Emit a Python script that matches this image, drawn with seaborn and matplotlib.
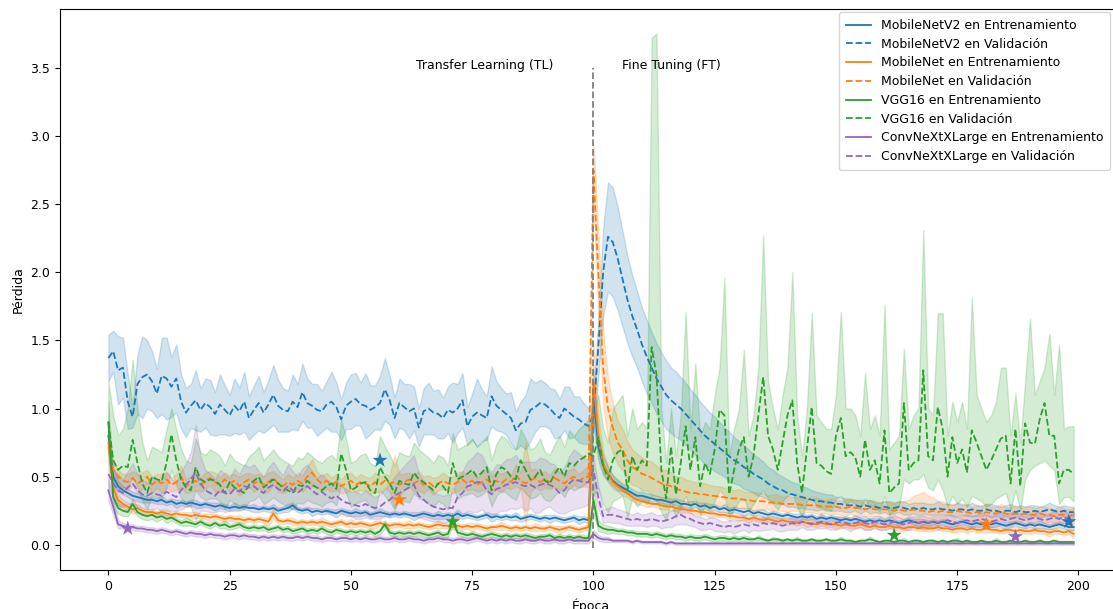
import numpy as np
import pandas as pd
import matplotlib
matplotlib.use('Agg')
import matplotlib.pyplot as plt
import seaborn as sns
from matplotlib.lines import Line2D

plt.rcParams['font.family'] = ['DejaVu Sans']
plt.rcParams['font.size'] = 9

# ---- datos (200 epocas: 0-99 TL, 100-199 FT) ----
epocas = np.arange(200)

mnv2_train = [
    0.80, 0.50, 0.43, 0.40, 0.38, 0.36, 0.35, 0.34, 0.33, 0.33,
    0.32, 0.33, 0.31, 0.32, 0.30, 0.31, 0.30, 0.31, 0.30, 0.29,
    0.30, 0.29, 0.28, 0.29, 0.28, 0.27, 0.28, 0.27, 0.28, 0.27,
    0.27, 0.26, 0.27, 0.26, 0.27, 0.25, 0.26, 0.27, 0.29, 0.26,
    0.25, 0.26, 0.24, 0.25, 0.24, 0.25, 0.24, 0.23, 0.25, 0.24,
    0.23, 0.24, 0.23, 0.24, 0.22, 0.23, 0.24, 0.23, 0.22, 0.23,
    0.22, 0.23, 0.22, 0.21, 0.22, 0.23, 0.22, 0.21, 0.22, 0.21,
    0.22, 0.21, 0.23, 0.21, 0.22, 0.21, 0.20, 0.21, 0.22, 0.20,
    0.21, 0.20, 0.21, 0.20, 0.21, 0.19, 0.20, 0.21, 0.20, 0.19,
    0.20, 0.19, 0.20, 0.19, 0.18, 0.19, 0.20, 0.18, 0.19, 0.18,
    1.10, 0.72, 0.58, 0.52, 0.47, 0.44, 0.42, 0.40, 0.38, 0.36,
    0.36, 0.35, 0.34, 0.33, 0.33, 0.32, 0.31, 0.32, 0.30, 0.30,
    0.29, 0.30, 0.28, 0.29, 0.27, 0.28, 0.26, 0.27, 0.25, 0.26,
    0.25, 0.24, 0.25, 0.23, 0.24, 0.23, 0.22, 0.23, 0.22, 0.21,
    0.22, 0.21, 0.20, 0.21, 0.20, 0.21, 0.19, 0.20, 0.19, 0.20,
    0.19, 0.18, 0.19, 0.18, 0.19, 0.18, 0.17, 0.18, 0.17, 0.18,
    0.17, 0.18, 0.17, 0.16, 0.17, 0.18, 0.17, 0.16, 0.17, 0.16,
    0.17, 0.16, 0.17, 0.16, 0.15, 0.16, 0.17, 0.16, 0.15, 0.16,
    0.15, 0.16, 0.15, 0.16, 0.15, 0.14, 0.15, 0.16, 0.15, 0.14,
    0.15, 0.14, 0.15, 0.14, 0.13, 0.14, 0.15, 0.14, 0.13, 0.13,
]
mnv2_train_sd = [
    .10, .06, .04, .03, .03, .03, .03, .03, .02, .02,
    .02, .03, .02, .02, .03, .02, .02, .02, .03, .02,
    .02, .02, .03, .02, .02, .02, .03, .02, .02, .02,
    .03, .02, .02, .02, .03, .02, .02, .03, .02, .02,
    .02, .02, .03, .02, .02, .02, .02, .03, .02, .02,
    .02, .03, .02, .02, .02, .02, .03, .02, .02, .02,
    .02, .02, .02, .03, .02, .02, .02, .02, .03, .02,
    .02, .02, .03, .02, .02, .02, .02, .02, .02, .03,
    .02, .02, .02, .02, .03, .02, .02, .02, .02, .02,
    .02, .03, .02, .02, .02, .02, .02, .03, .02, .02,
    .20, .10, .07, .05, .04, .04, .03, .03, .03, .03,
    .03, .03, .03, .03, .02, .03, .03, .02, .03, .02,
    .03, .02, .03, .02, .03, .02, .02, .03, .02, .02,
    .02, .03, .02, .02, .02, .03, .02, .02, .02, .02,
    .02, .02, .03, .02, .02, .02, .02, .03, .02, .02,
    .02, .02, .02, .02, .03, .02, .02, .02, .02, .02,
    .02, .03, .02, .02, .02, .02, .02, .03, .02, .02,
    .02, .02, .02, .03, .02, .02, .02, .02, .02, .03,
    .02, .02, .02, .02, .02, .03, .02, .02, .02, .02,
    .02, .02, .03, .02, .02, .02, .02, .02, .03, .02,
]
mnv2_val = [
    1.37, 1.42, 1.28, 1.30, 1.05, 0.94, 1.18, 1.23, 1.25, 1.20,
    1.11, 1.24, 1.22, 1.16, 1.22, 1.05, 0.97, 1.02, 1.06, 0.99,
    1.04, 1.01, 0.96, 1.03, 0.99, 0.95, 1.02, 0.98, 1.05, 0.93,
    0.99, 1.04, 0.97, 1.03, 1.10, 1.02, 0.99, 0.98, 1.05, 1.01,
    1.12, 1.04, 1.02, 0.99, 0.98, 1.03, 1.05, 1.01, 0.92, 1.02,
    1.05, 1.07, 1.03, 1.02, 0.99, 1.01, 1.04, 1.14, 1.06, 0.93,
    1.04, 1.01, 0.98, 1.00, 0.86, 0.98, 1.00, 0.97, 0.96, 0.93,
    0.99, 0.97, 1.00, 1.06, 0.87, 0.94, 0.97, 0.95, 0.93, 1.09,
    1.02, 0.99, 0.96, 0.93, 0.84, 0.89, 0.90, 0.99, 1.01, 1.04,
    1.03, 1.00, 0.96, 0.93, 1.00, 0.97, 0.94, 0.92, 0.89, 0.87,
    0.95, 1.45, 2.00, 2.26, 2.22, 2.10, 1.95, 1.80, 1.68, 1.58,
    1.47, 1.38, 1.30, 1.22, 1.16, 1.10, 1.06, 1.03, 1.00, 0.96,
    0.92, 0.88, 0.84, 0.80, 0.77, 0.74, 0.71, 0.68, 0.65, 0.62,
    0.60, 0.57, 0.55, 0.52, 0.50, 0.48, 0.45, 0.43, 0.41, 0.40,
    0.38, 0.37, 0.36, 0.35, 0.34, 0.33, 0.32, 0.32, 0.31, 0.31,
    0.30, 0.30, 0.29, 0.29, 0.29, 0.28, 0.29, 0.28, 0.28, 0.27,
    0.28, 0.27, 0.27, 0.28, 0.27, 0.26, 0.27, 0.26, 0.27, 0.26,
    0.26, 0.27, 0.26, 0.26, 0.25, 0.26, 0.26, 0.25, 0.26, 0.25,
    0.25, 0.26, 0.25, 0.25, 0.24, 0.25, 0.25, 0.24, 0.25, 0.24,
    0.24, 0.25, 0.24, 0.25, 0.26, 0.25, 0.24, 0.25, 0.24, 0.24,
]
mnv2_val_sd = [
    .17, .15, .25, .22, .20, .08, .22, .30, .25, .22,
    .18, .28, .30, .22, .25, .20, .18, .16, .22, .16,
    .18, .20, .16, .22, .18, .15, .20, .17, .22, .16,
    .18, .20, .15, .18, .22, .19, .16, .15, .20, .17,
    .21, .18, .16, .19, .15, .17, .22, .18, .15, .17,
    .20, .19, .16, .24, .18, .16, .20, .23, .18, .15,
    .18, .17, .20, .16, .14, .17, .19, .16, .18, .15,
    .17, .22, .18, .20, .14, .17, .25, .19, .16, .22,
    .18, .16, .15, .19, .14, .16, .20, .23, .18, .17,
    .16, .15, .18, .14, .16, .19, .15, .17, .15, .13,
    .10, .22, .32, .40, .40, .38, .35, .32, .30, .28,
    .27, .27, .26, .26, .25, .25, .24, .24, .23, .23,
    .22, .22, .21, .21, .20, .20, .19, .18, .18, .17,
    .16, .16, .15, .14, .14, .13, .12, .12, .11, .10,
    .10, .09, .09, .08, .08, .07, .07, .06, .06, .06,
    .05, .05, .05, .05, .04, .05, .04, .05, .04, .04,
    .04, .05, .04, .04, .05, .04, .04, .05, .04, .04,
    .04, .05, .04, .04, .04, .05, .04, .04, .05, .04,
    .04, .04, .05, .04, .04, .04, .05, .04, .04, .04,
    .05, .04, .04, .04, .05, .04, .04, .04, .04, .04,
]

mn_train = [
    0.75, 0.42, 0.33, 0.30, 0.28, 0.26, 0.27, 0.25, 0.24, 0.24,
    0.23, 0.24, 0.23, 0.22, 0.23, 0.22, 0.22, 0.21, 0.22, 0.21,
    0.21, 0.20, 0.21, 0.20, 0.19, 0.20, 0.19, 0.19, 0.18, 0.19,
    0.18, 0.19, 0.18, 0.17, 0.23, 0.18, 0.17, 0.18, 0.17, 0.16,
    0.17, 0.16, 0.17, 0.16, 0.17, 0.16, 0.15, 0.16, 0.17, 0.15,
    0.16, 0.15, 0.16, 0.15, 0.14, 0.15, 0.16, 0.15, 0.14, 0.15,
    0.15, 0.14, 0.15, 0.14, 0.15, 0.14, 0.13, 0.14, 0.15, 0.14,
    0.14, 0.13, 0.14, 0.13, 0.14, 0.13, 0.14, 0.13, 0.12, 0.13,
    0.13, 0.14, 0.13, 0.12, 0.13, 0.12, 0.13, 0.12, 0.13, 0.12,
    0.12, 0.13, 0.12, 0.11, 0.12, 0.13, 0.12, 0.11, 0.12, 0.13,
    1.20, 0.80, 0.60, 0.52, 0.46, 0.43, 0.40, 0.38, 0.35, 0.33,
    0.32, 0.31, 0.30, 0.30, 0.29, 0.28, 0.28, 0.27, 0.26, 0.26,
    0.25, 0.25, 0.24, 0.24, 0.23, 0.23, 0.22, 0.22, 0.21, 0.21,
    0.20, 0.20, 0.19, 0.20, 0.19, 0.18, 0.19, 0.18, 0.17, 0.18,
    0.17, 0.17, 0.16, 0.17, 0.16, 0.16, 0.15, 0.16, 0.15, 0.15,
    0.15, 0.14, 0.15, 0.14, 0.14, 0.15, 0.14, 0.13, 0.14, 0.13,
    0.13, 0.14, 0.13, 0.13, 0.12, 0.13, 0.13, 0.12, 0.13, 0.12,
    0.12, 0.13, 0.12, 0.12, 0.11, 0.12, 0.12, 0.11, 0.12, 0.11,
    0.11, 0.12, 0.11, 0.11, 0.10, 0.11, 0.11, 0.10, 0.11, 0.10,
    0.10, 0.11, 0.10, 0.10, 0.09, 0.10, 0.10, 0.09, 0.10, 0.08,
]
mn_train_sd = [
    .10, .06, .04, .03, .03, .03, .03, .02, .02, .02,
    .02, .02, .03, .02, .02, .02, .02, .03, .02, .02,
    .02, .03, .02, .02, .02, .02, .02, .03, .02, .02,
    .02, .02, .02, .03, .04, .02, .02, .02, .03, .02,
    .02, .02, .02, .02, .03, .02, .02, .02, .02, .02,
    .03, .02, .02, .02, .02, .03, .02, .02, .02, .02,
    .02, .02, .03, .02, .02, .02, .02, .02, .03, .02,
    .02, .02, .02, .02, .02, .03, .02, .02, .02, .02,
    .02, .03, .02, .02, .02, .02, .02, .02, .03, .02,
    .02, .02, .02, .03, .02, .02, .02, .02, .02, .02,
    .30, .15, .08, .06, .05, .04, .04, .03, .03, .03,
    .03, .03, .02, .03, .03, .02, .03, .02, .03, .02,
    .02, .03, .02, .02, .03, .02, .02, .02, .03, .02,
    .02, .02, .03, .02, .02, .02, .02, .03, .02, .02,
    .02, .02, .02, .02, .03, .02, .02, .02, .02, .02,
    .03, .02, .02, .02, .02, .02, .03, .02, .02, .02,
    .02, .02, .02, .03, .02, .02, .02, .02, .03, .02,
    .02, .02, .02, .02, .02, .03, .02, .02, .02, .02,
    .02, .03, .02, .02, .02, .02, .02, .03, .02, .02,
    .02, .02, .02, .02, .03, .02, .02, .02, .02, .03,
]
mn_val = [
    0.72, 0.55, 0.50, 0.47, 0.46, 0.49, 0.45, 0.47, 0.50, 0.44,
    0.47, 0.45, 0.48, 0.44, 0.46, 0.50, 0.43, 0.45, 0.47, 0.44,
    0.47, 0.49, 0.46, 0.44, 0.48, 0.45, 0.47, 0.43, 0.46, 0.48,
    0.45, 0.47, 0.44, 0.46, 0.49, 0.45, 0.43, 0.46, 0.44, 0.47,
    0.45, 0.50, 0.53, 0.48, 0.45, 0.47, 0.44, 0.46, 0.43, 0.45,
    0.47, 0.44, 0.46, 0.45, 0.43, 0.46, 0.44, 0.47, 0.45, 0.46,
    0.44, 0.46, 0.48, 0.45, 0.47, 0.44, 0.46, 0.43, 0.45, 0.47,
    0.45, 0.44, 0.46, 0.48, 0.45, 0.47, 0.44, 0.46, 0.48, 0.45,
    0.47, 0.45, 0.48, 0.46, 0.51, 0.47, 0.45, 0.47, 0.49, 0.46,
    0.48, 0.46, 0.49, 0.47, 0.45, 0.48, 0.50, 0.47, 0.49, 0.50,
    2.75, 2.00, 1.30, 1.00, 0.86, 0.75, 0.70, 0.62, 0.57, 0.55,
    0.52, 0.51, 0.49, 0.47, 0.45, 0.44, 0.43, 0.41, 0.40, 0.39,
    0.38, 0.38, 0.37, 0.37, 0.36, 0.36, 0.35, 0.35, 0.34, 0.34,
    0.34, 0.33, 0.33, 0.32, 0.32, 0.32, 0.31, 0.31, 0.31, 0.30,
    0.30, 0.30, 0.30, 0.29, 0.29, 0.29, 0.29, 0.28, 0.28, 0.28,
    0.28, 0.27, 0.27, 0.28, 0.27, 0.27, 0.26, 0.27, 0.26, 0.26,
    0.26, 0.26, 0.25, 0.26, 0.25, 0.25, 0.26, 0.25, 0.25, 0.24,
    0.25, 0.24, 0.25, 0.24, 0.24, 0.25, 0.24, 0.24, 0.23, 0.24,
    0.23, 0.24, 0.23, 0.23, 0.24, 0.23, 0.22, 0.23, 0.22, 0.23,
    0.22, 0.22, 0.23, 0.22, 0.22, 0.21, 0.22, 0.22, 0.21, 0.22,
]
mn_val_sd = [
    .10, .06, .05, .05, .06, .05, .07, .06, .05, .06,
    .05, .07, .06, .05, .06, .08, .05, .06, .07, .05,
    .06, .05, .07, .06, .05, .06, .05, .07, .06, .05,
    .06, .05, .06, .07, .05, .06, .05, .06, .05, .06,
    .06, .07, .10, .06, .05, .06, .05, .06, .05, .07,
    .06, .05, .06, .05, .06, .07, .06, .05, .06, .20,
    .08, .06, .05, .06, .07, .06, .05, .06, .05, .06,
    .05, .06, .07, .06, .05, .06, .05, .06, .07, .06,
    .06, .07, .06, .05, .08, .06, .30, .08, .07, .06,
    .06, .05, .07, .06, .05, .07, .06, .05, .06, .08,
    .20, .30, .28, .22, .18, .16, .15, .14, .13, .12,
    .12, .11, .12, .11, .10, .11, .10, .09, .10, .09,
    .09, .08, .09, .08, .08, .07, .08, .07, .07, .06,
    .07, .06, .06, .07, .06, .06, .05, .06, .06, .05,
    .06, .05, .05, .06, .05, .05, .06, .05, .05, .06,
    .05, .05, .06, .05, .06, .05, .05, .06, .05, .05,
    .06, .05, .05, .06, .07, .08, .10, .12, .14, .12,
    .10, .08, .07, .06, .06, .05, .05, .06, .05, .05,
    .05, .06, .05, .05, .06, .05, .05, .06, .05, .05,
    .06, .05, .05, .06, .05, .05, .06, .05, .05, .05,
]

vgg_train = [
    0.90, 0.35, 0.27, 0.25, 0.24, 0.30, 0.24, 0.22, 0.21, 0.22,
    0.20, 0.21, 0.19, 0.20, 0.18, 0.16, 0.17, 0.16, 0.15, 0.17,
    0.15, 0.14, 0.16, 0.14, 0.15, 0.13, 0.14, 0.15, 0.13, 0.12,
    0.13, 0.12, 0.13, 0.11, 0.12, 0.13, 0.11, 0.12, 0.10, 0.11,
    0.12, 0.10, 0.11, 0.10, 0.12, 0.10, 0.09, 0.11, 0.10, 0.09,
    0.10, 0.09, 0.10, 0.09, 0.10, 0.08, 0.10, 0.15, 0.09, 0.08,
    0.09, 0.08, 0.09, 0.08, 0.09, 0.08, 0.07, 0.08, 0.09, 0.07,
    0.08, 0.17, 0.09, 0.08, 0.07, 0.08, 0.07, 0.06, 0.07, 0.08,
    0.07, 0.06, 0.07, 0.06, 0.07, 0.06, 0.07, 0.06, 0.05, 0.06,
    0.06, 0.07, 0.05, 0.06, 0.05, 0.06, 0.05, 0.06, 0.05, 0.05,
    0.33, 0.14, 0.12, 0.11, 0.11, 0.10, 0.10, 0.09, 0.09, 0.08,
    0.08, 0.08, 0.07, 0.08, 0.07, 0.06, 0.07, 0.06, 0.06, 0.05,
    0.06, 0.05, 0.05, 0.06, 0.05, 0.04, 0.05, 0.05, 0.04, 0.05,
    0.04, 0.05, 0.04, 0.04, 0.05, 0.04, 0.03, 0.04, 0.04, 0.03,
    0.04, 0.03, 0.04, 0.03, 0.03, 0.04, 0.03, 0.03, 0.04, 0.03,
    0.03, 0.04, 0.03, 0.03, 0.02, 0.03, 0.03, 0.04, 0.03, 0.02,
    0.03, 0.03, 0.02, 0.03, 0.03, 0.02, 0.03, 0.03, 0.02, 0.03,
    0.03, 0.02, 0.03, 0.02, 0.03, 0.03, 0.02, 0.03, 0.02, 0.02,
    0.03, 0.02, 0.02, 0.03, 0.02, 0.02, 0.03, 0.02, 0.02, 0.03,
    0.02, 0.02, 0.03, 0.02, 0.02, 0.03, 0.02, 0.02, 0.02, 0.02,
]
vgg_train_sd = [
    .15, .08, .04, .04, .03, .04, .03, .03, .03, .03,
    .03, .02, .03, .02, .02, .02, .03, .02, .02, .02,
    .02, .02, .02, .02, .03, .02, .02, .02, .02, .02,
    .02, .02, .02, .02, .02, .02, .02, .02, .02, .02,
    .02, .02, .02, .02, .02, .02, .02, .02, .02, .02,
    .02, .02, .02, .02, .02, .02, .02, .03, .02, .02,
    .02, .02, .02, .02, .02, .02, .02, .02, .02, .02,
    .02, .03, .02, .02, .02, .02, .02, .02, .02, .02,
    .02, .02, .02, .02, .02, .02, .02, .02, .02, .02,
    .02, .02, .02, .02, .02, .02, .02, .02, .02, .02,
    .10, .04, .03, .03, .02, .02, .02, .02, .02, .02,
    .02, .02, .02, .02, .02, .02, .02, .02, .02, .02,
    .02, .02, .02, .02, .02, .02, .02, .02, .02, .02,
    .02, .02, .02, .01, .02, .01, .01, .02, .01, .01,
    .01, .01, .02, .01, .01, .01, .01, .01, .01, .01,
    .01, .02, .01, .01, .01, .01, .01, .02, .01, .01,
    .01, .01, .01, .01, .02, .01, .01, .01, .01, .01,
    .01, .01, .01, .01, .01, .02, .01, .01, .01, .01,
    .01, .01, .01, .02, .01, .01, .01, .01, .01, .01,
    .01, .01, .01, .01, .01, .01, .01, .01, .01, .01,
]
vgg_val = [
    0.90, 0.62, 0.55, 0.58, 0.57, 0.77, 0.60, 0.45, 0.38, 0.50,
    0.48, 0.47, 0.60, 0.81, 0.62, 0.48, 0.42, 0.40, 0.57, 0.48,
    0.46, 0.48, 0.47, 0.44, 0.38, 0.46, 0.42, 0.40, 0.38, 0.44,
    0.47, 0.50, 0.42, 0.45, 0.48, 0.45, 0.42, 0.40, 0.38, 0.44,
    0.43, 0.47, 0.44, 0.42, 0.40, 0.43, 0.45, 0.41, 0.67, 0.55,
    0.40, 0.42, 0.45, 0.46, 0.40, 0.38, 0.57, 0.50, 0.45, 0.38,
    0.47, 0.45, 0.44, 0.53, 0.48, 0.46, 0.43, 0.40, 0.45, 0.43,
    0.38, 0.60, 0.48, 0.50, 0.52, 0.55, 0.50, 0.53, 0.57, 0.40,
    0.52, 0.57, 0.55, 0.50, 0.48, 0.62, 0.55, 0.48, 0.50, 0.55,
    0.47, 0.45, 0.52, 0.57, 0.50, 0.60, 0.58, 0.62, 0.64, 0.67,
    0.65, 0.79, 0.58, 0.48, 0.62, 0.68, 0.70, 0.40, 0.65, 0.55,
    0.62, 0.58, 1.45, 1.25, 0.55, 0.34, 0.72, 0.37, 0.60, 0.87,
    0.55, 0.79, 0.43, 0.60, 0.52, 0.70, 0.99, 0.95, 0.37, 0.55,
    0.70, 0.79, 0.50, 0.65, 0.95, 1.23, 0.80, 0.70, 0.55, 0.75,
    0.95, 1.06, 0.60, 0.38, 0.70, 1.01, 0.60, 0.58, 0.54, 0.52,
    0.80, 0.93, 0.65, 0.68, 0.64, 0.50, 0.77, 0.55, 0.62, 0.45,
    0.84, 0.38, 0.42, 0.45, 1.04, 0.55, 0.60, 0.62, 1.28, 0.65,
    0.62, 1.01, 0.85, 0.50, 0.79, 0.60, 0.70, 0.53, 0.84, 0.75,
    0.65, 0.55, 0.62, 0.70, 0.78, 0.80, 0.45, 0.85, 0.43, 0.89,
    0.75, 0.74, 0.92, 1.04, 0.80, 0.80, 0.45, 0.55, 0.55, 0.52,
]
vgg_val_lo = [
    0.65, 0.45, 0.40, 0.42, 0.42, 0.50, 0.42, 0.32, 0.26, 0.36,
    0.35, 0.34, 0.42, 0.55, 0.44, 0.34, 0.30, 0.28, 0.40, 0.35,
    0.33, 0.34, 0.34, 0.32, 0.26, 0.33, 0.30, 0.28, 0.26, 0.32,
    0.33, 0.36, 0.30, 0.32, 0.35, 0.32, 0.30, 0.28, 0.26, 0.31,
    0.30, 0.33, 0.31, 0.30, 0.28, 0.31, 0.32, 0.29, 0.45, 0.38,
    0.28, 0.30, 0.32, 0.33, 0.28, 0.26, 0.40, 0.36, 0.32, 0.26,
    0.33, 0.32, 0.31, 0.38, 0.34, 0.33, 0.30, 0.28, 0.32, 0.30,
    0.26, 0.42, 0.34, 0.36, 0.37, 0.38, 0.35, 0.37, 0.40, 0.28,
    0.36, 0.40, 0.38, 0.35, 0.33, 0.42, 0.38, 0.34, 0.35, 0.38,
    0.33, 0.32, 0.36, 0.40, 0.35, 0.42, 0.40, 0.42, 0.44, 0.46,
    0.36, 0.42, 0.30, 0.24, 0.32, 0.34, 0.36, 0.20, 0.34, 0.28,
    0.32, 0.30, 0.36, 0.32, 0.24, 0.18, 0.32, 0.20, 0.28, 0.36,
    0.26, 0.34, 0.22, 0.28, 0.26, 0.32, 0.40, 0.36, 0.20, 0.26,
    0.32, 0.34, 0.25, 0.30, 0.36, 0.40, 0.34, 0.30, 0.26, 0.32,
    0.36, 0.38, 0.28, 0.20, 0.32, 0.36, 0.28, 0.27, 0.26, 0.25,
    0.34, 0.36, 0.30, 0.32, 0.30, 0.26, 0.34, 0.27, 0.30, 0.24,
    0.36, 0.22, 0.25, 0.28, 0.48, 0.45, 0.48, 0.48, 0.52, 0.42,
    0.40, 0.48, 0.40, 0.28, 0.36, 0.30, 0.34, 0.28, 0.36, 0.34,
    0.32, 0.28, 0.30, 0.34, 0.36, 0.38, 0.26, 0.40, 0.25, 0.48,
    0.55, 0.58, 0.60, 0.62, 0.58, 0.55, 0.30, 0.35, 0.35, 0.32,
]
vgg_val_hi = [
    1.20, 0.95, 0.80, 0.85, 1.00, 1.36, 1.00, 0.75, 0.62, 0.72,
    0.70, 0.68, 0.85, 1.00, 0.85, 0.70, 0.62, 0.60, 0.78, 0.68,
    0.66, 0.70, 0.68, 0.65, 0.58, 0.67, 0.62, 0.60, 0.58, 0.65,
    0.68, 0.72, 0.62, 0.66, 0.70, 0.65, 0.62, 0.60, 0.58, 0.64,
    0.63, 0.68, 0.65, 0.62, 0.60, 0.64, 0.66, 0.62, 0.92, 0.78,
    0.60, 0.62, 0.66, 0.67, 0.60, 0.58, 0.80, 0.72, 0.66, 0.58,
    0.68, 0.66, 0.65, 0.75, 0.70, 0.67, 0.64, 0.60, 0.66, 0.64,
    0.58, 0.82, 0.70, 0.72, 0.74, 0.78, 0.72, 0.75, 0.80, 0.62,
    0.74, 0.80, 0.78, 0.72, 0.70, 0.85, 0.78, 0.70, 0.72, 0.78,
    0.68, 0.66, 0.74, 0.80, 0.72, 0.84, 0.80, 0.85, 0.88, 0.92,
    0.95, 1.10, 0.85, 0.75, 1.00, 1.05, 1.10, 0.80, 1.00, 0.85,
    0.90, 0.85, 3.72, 3.75, 1.00, 0.60, 1.00, 0.65, 0.95, 1.71,
    0.85, 1.33, 0.80, 0.90, 0.85, 1.10, 1.30, 1.96, 0.65, 0.85,
    1.00, 1.43, 0.80, 0.95, 1.30, 2.27, 1.20, 1.00, 0.85, 1.10,
    1.30, 2.00, 0.95, 0.65, 1.00, 1.70, 0.95, 0.90, 0.85, 0.85,
    1.10, 1.71, 1.00, 1.00, 0.95, 0.80, 1.26, 0.85, 0.95, 0.80,
    1.76, 0.70, 0.75, 0.80, 1.44, 0.85, 0.95, 1.00, 2.31, 1.00,
    0.95, 1.70, 1.70, 0.80, 1.05, 0.90, 1.05, 0.85, 1.81, 1.10,
    1.00, 0.90, 0.95, 1.05, 1.30, 1.30, 0.80, 1.11, 0.75, 1.20,
    1.66, 1.10, 1.20, 1.30, 1.55, 1.10, 1.47, 0.85, 0.87, 0.87,
]

cnx_train = [
    0.40, 0.28, 0.15, 0.14, 0.13, 0.13, 0.12, 0.12, 0.11, 0.11,
    0.10, 0.11, 0.10, 0.09, 0.10, 0.09, 0.08, 0.09, 0.08, 0.08,
    0.07, 0.08, 0.07, 0.07, 0.06, 0.07, 0.07, 0.06, 0.07, 0.06,
    0.06, 0.05, 0.06, 0.05, 0.06, 0.05, 0.06, 0.05, 0.05, 0.06,
    0.05, 0.06, 0.05, 0.05, 0.04, 0.05, 0.05, 0.04, 0.05, 0.05,
    0.04, 0.05, 0.04, 0.05, 0.04, 0.04, 0.05, 0.04, 0.04, 0.05,
    0.04, 0.04, 0.05, 0.04, 0.04, 0.03, 0.04, 0.04, 0.05, 0.04,
    0.04, 0.03, 0.04, 0.04, 0.03, 0.04, 0.05, 0.04, 0.03, 0.04,
    0.03, 0.04, 0.03, 0.04, 0.03, 0.03, 0.04, 0.03, 0.03, 0.04,
    0.03, 0.03, 0.04, 0.03, 0.03, 0.04, 0.03, 0.03, 0.03, 0.03,
    0.08, 0.05, 0.04, 0.04, 0.03, 0.03, 0.03, 0.03, 0.02, 0.03,
    0.02, 0.02, 0.02, 0.02, 0.02, 0.01, 0.02, 0.01, 0.01, 0.01,
    0.01, 0.01, 0.01, 0.01, 0.01, 0.01, 0.01, 0.01, 0.01, 0.01,
    0.01, 0.01, 0.01, 0.01, 0.01, 0.01, 0.01, 0.01, 0.01, 0.01,
    0.01, 0.01, 0.01, 0.01, 0.01, 0.01, 0.01, 0.01, 0.01, 0.01,
    0.01, 0.01, 0.01, 0.01, 0.01, 0.01, 0.01, 0.01, 0.01, 0.01,
    0.01, 0.01, 0.01, 0.01, 0.01, 0.01, 0.01, 0.01, 0.01, 0.01,
    0.01, 0.01, 0.01, 0.01, 0.01, 0.01, 0.01, 0.01, 0.01, 0.01,
    0.01, 0.01, 0.01, 0.01, 0.01, 0.01, 0.01, 0.01, 0.01, 0.01,
    0.01, 0.01, 0.01, 0.01, 0.01, 0.01, 0.01, 0.01, 0.01, 0.01,
]
cnx_train_sd = [
    .08, .06, .03, .02, .02, .02, .02, .02, .02, .02,
    .02, .02, .02, .02, .02, .02, .02, .02, .02, .02,
    .02, .02, .02, .02, .02, .02, .02, .02, .02, .02,
    .02, .02, .02, .02, .02, .02, .02, .02, .02, .02,
    .02, .02, .02, .02, .02, .02, .02, .02, .02, .02,
    .02, .02, .02, .02, .02, .02, .02, .02, .02, .02,
    .02, .02, .02, .02, .02, .02, .02, .02, .02, .02,
    .02, .02, .02, .02, .02, .02, .02, .02, .02, .02,
    .02, .02, .02, .02, .02, .02, .02, .02, .02, .02,
    .02, .02, .02, .02, .02, .02, .02, .02, .02, .02,
    .03, .02, .02, .02, .01, .01, .01, .01, .01, .01,
    .01, .01, .01, .01, .01, .01, .01, .01, .01, .01,
    .01, .01, .01, .01, .01, .01, .01, .01, .01, .01,
    .01, .01, .01, .01, .01, .01, .01, .01, .01, .01,
    .01, .01, .01, .01, .01, .01, .01, .01, .01, .01,
    .01, .01, .01, .01, .01, .01, .01, .01, .01, .01,
    .01, .01, .01, .01, .01, .01, .01, .01, .01, .01,
    .01, .01, .01, .01, .01, .01, .01, .01, .01, .01,
    .01, .01, .01, .01, .01, .01, .01, .01, .01, .01,
    .01, .01, .01, .01, .01, .01, .01, .01, .01, .01,
]
cnx_val = [
    0.52, 0.45, 0.40, 0.38, 0.42, 0.45, 0.40, 0.37, 0.36, 0.38,
    0.37, 0.36, 0.39, 0.37, 0.35, 0.40, 0.44, 0.48, 0.53, 0.45,
    0.40, 0.38, 0.36, 0.40, 0.38, 0.37, 0.41, 0.39, 0.43, 0.42,
    0.43, 0.40, 0.38, 0.42, 0.44, 0.41, 0.39, 0.43, 0.40, 0.38,
    0.41, 0.43, 0.40, 0.37, 0.39, 0.36, 0.34, 0.36, 0.33, 0.31,
    0.30, 0.29, 0.28, 0.30, 0.28, 0.27, 0.28, 0.31, 0.33, 0.36,
    0.38, 0.40, 0.42, 0.44, 0.36, 0.33, 0.30, 0.28, 0.27, 0.26,
    0.27, 0.27, 0.35, 0.38, 0.43, 0.44, 0.46, 0.46, 0.40, 0.37,
    0.41, 0.42, 0.44, 0.45, 0.46, 0.44, 0.43, 0.44, 0.42, 0.44,
    0.45, 0.44, 0.42, 0.38, 0.40, 0.45, 0.48, 0.47, 0.46, 0.46,
    0.55, 0.35, 0.21, 0.22, 0.22, 0.21, 0.20, 0.19, 0.18, 0.19,
    0.18, 0.18, 0.19, 0.18, 0.17, 0.18, 0.19, 0.21, 0.22, 0.20,
    0.19, 0.17, 0.16, 0.15, 0.16, 0.15, 0.14, 0.13, 0.14, 0.13,
    0.14, 0.15, 0.14, 0.15, 0.14, 0.16, 0.15, 0.16, 0.15, 0.14,
    0.15, 0.16, 0.15, 0.17, 0.16, 0.15, 0.16, 0.17, 0.16, 0.15,
    0.16, 0.17, 0.16, 0.15, 0.16, 0.17, 0.16, 0.15, 0.17, 0.16,
    0.15, 0.16, 0.17, 0.16, 0.15, 0.16, 0.17, 0.16, 0.17, 0.16,
    0.17, 0.16, 0.17, 0.18, 0.17, 0.16, 0.17, 0.18, 0.17, 0.18,
    0.19, 0.18, 0.17, 0.18, 0.19, 0.18, 0.19, 0.20, 0.19, 0.18,
    0.19, 0.20, 0.19, 0.18, 0.19, 0.20, 0.19, 0.20, 0.19, 0.20,
]
cnx_val_sd = [
    .10, .10, .12, .10, .12, .15, .12, .10, .10, .12,
    .10, .12, .14, .12, .10, .14, .16, .20, .35, .20,
    .15, .14, .12, .15, .14, .12, .15, .13, .16, .15,
    .16, .14, .12, .15, .17, .14, .12, .16, .14, .12,
    .15, .16, .14, .12, .13, .12, .11, .12, .10, .10,
    .09, .10, .09, .10, .09, .08, .09, .10, .12, .14,
    .16, .18, .20, .22, .16, .14, .12, .11, .10, .10,
    .10, .11, .15, .16, .18, .20, .22, .20, .18, .16,
    .18, .17, .19, .18, .20, .16, .18, .17, .19, .20,
    .18, .16, .17, .15, .17, .20, .22, .20, .18, .16,
    .10, .08, .05, .05, .06, .05, .05, .05, .04, .05,
    .04, .05, .05, .04, .05, .05, .06, .06, .07, .05,
    .05, .04, .05, .04, .04, .05, .04, .04, .04, .05,
    .04, .04, .05, .04, .04, .05, .04, .04, .05, .04,
    .04, .05, .04, .04, .05, .04, .04, .05, .04, .04,
    .05, .04, .04, .05, .04, .04, .05, .04, .04, .05,
    .04, .04, .05, .04, .04, .05, .04, .04, .05, .04,
    .04, .05, .04, .04, .05, .04, .04, .05, .04, .04,
    .05, .04, .04, .05, .04, .04, .05, .04, .04, .05,
    .04, .04, .05, .04, .04, .05, .04, .04, .05, .04,
]

# mejores epocas marcadas con estrella
estrella_modelo = ['MobileNetV2', 'MobileNetV2', 'MobileNet', 'MobileNet',
                   'VGG16', 'VGG16', 'ConvNeXtXLarge', 'ConvNeXtXLarge']
estrella_epoca = [56, 198, 60, 181, 71, 162, 4, 187]
estrella_perdida = [0.62, 0.17, 0.33, 0.15, 0.17, 0.07, 0.12, 0.06]

colores = {'MobileNetV2': '#1f77b4', 'MobileNet': '#ff7f0e',
           'VGG16': '#2ca02c', 'ConvNeXtXLarge': '#9467bd'}

# (modelo, fase, media, limite inferior, limite superior)
curvas = [
    ('MobileNetV2', 'Entrenamiento', mnv2_train,
     np.subtract(mnv2_train, mnv2_train_sd), np.add(mnv2_train, mnv2_train_sd)),
    ('MobileNetV2', 'Validación', mnv2_val,
     np.subtract(mnv2_val, mnv2_val_sd), np.add(mnv2_val, mnv2_val_sd)),
    ('MobileNet', 'Entrenamiento', mn_train,
     np.subtract(mn_train, mn_train_sd), np.add(mn_train, mn_train_sd)),
    ('MobileNet', 'Validación', mn_val,
     np.subtract(mn_val, mn_val_sd), np.add(mn_val, mn_val_sd)),
    ('VGG16', 'Entrenamiento', vgg_train,
     np.subtract(vgg_train, vgg_train_sd), np.add(vgg_train, vgg_train_sd)),
    ('VGG16', 'Validación', vgg_val, vgg_val_lo, vgg_val_hi),
    ('ConvNeXtXLarge', 'Entrenamiento', cnx_train,
     np.subtract(cnx_train, cnx_train_sd), np.add(cnx_train, cnx_train_sd)),
    ('ConvNeXtXLarge', 'Validación', cnx_val,
     np.subtract(cnx_val, cnx_val_sd), np.add(cnx_val, cnx_val_sd)),
]

filas = []
for modelo, fase, media, bajo, alto in curvas:
    nombre = f'{modelo} en {fase}'
    for e, m, b, a in zip(epocas, media, bajo, alto):
        filas += [(nombre, e, b), (nombre, e, m), (nombre, e, a)]
df = pd.DataFrame(filas, columns=['serie', 'epoca', 'perdida'])

orden = [f'{m} en {f}' for m, f, *_ in curvas]
paleta = {f'{m} en {f}': colores[m] for m, f, *_ in curvas}
trazos = {f'{m} en {f}': ('' if f == 'Entrenamiento' else (3.7, 1.6)) for m, f, *_ in curvas}

fig = plt.figure(figsize=(11.13, 6.09), dpi=100)
# el borde derecho del eje queda fuera de la imagen, como en el original
ax = fig.add_axes([0.054, 0.064, 0.954, 0.921])

sns.lineplot(data=df, x='epoca', y='perdida', hue='serie', style='serie',
             hue_order=orden, style_order=orden, palette=paleta, dashes=trazos,
             estimator='median', errorbar=('pi', 100), linewidth=1.3,
             legend=False, ax=ax)

# linea de cambio TL -> FT
ax.vlines(100, -0.02, 3.5, colors='gray', linestyles='--', linewidth=1.3)
ax.text(77.5, 3.47, 'Transfer Learning (TL)', ha='center', va='bottom')
ax.text(116, 3.47, 'Fine Tuning (FT)', ha='center', va='bottom')

sns.scatterplot(x=estrella_epoca, y=estrella_perdida, hue=estrella_modelo,
                palette=colores, marker='*', s=130, linewidth=0,
                legend=False, ax=ax, zorder=5)

ax.set_xlim(-9.95, 208.95)
ax.set_ylim(-0.185, 3.93)
ax.set_xlabel('Época')
ax.set_ylabel('Pérdida')

manijas = [Line2D([], [], color=paleta[n], lw=1.3,
                  ls='-' if 'Entrenamiento' in n else '--') for n in orden]
ax.legend(manijas, orden, loc='upper right', fontsize=9, labelspacing=0.46,
          borderpad=0.55, borderaxespad=0, bbox_to_anchor=(1110 / 1113, 1 - 12 / 609),
          bbox_transform=fig.transFigure)

fig.savefig('out.png', dpi=100)
